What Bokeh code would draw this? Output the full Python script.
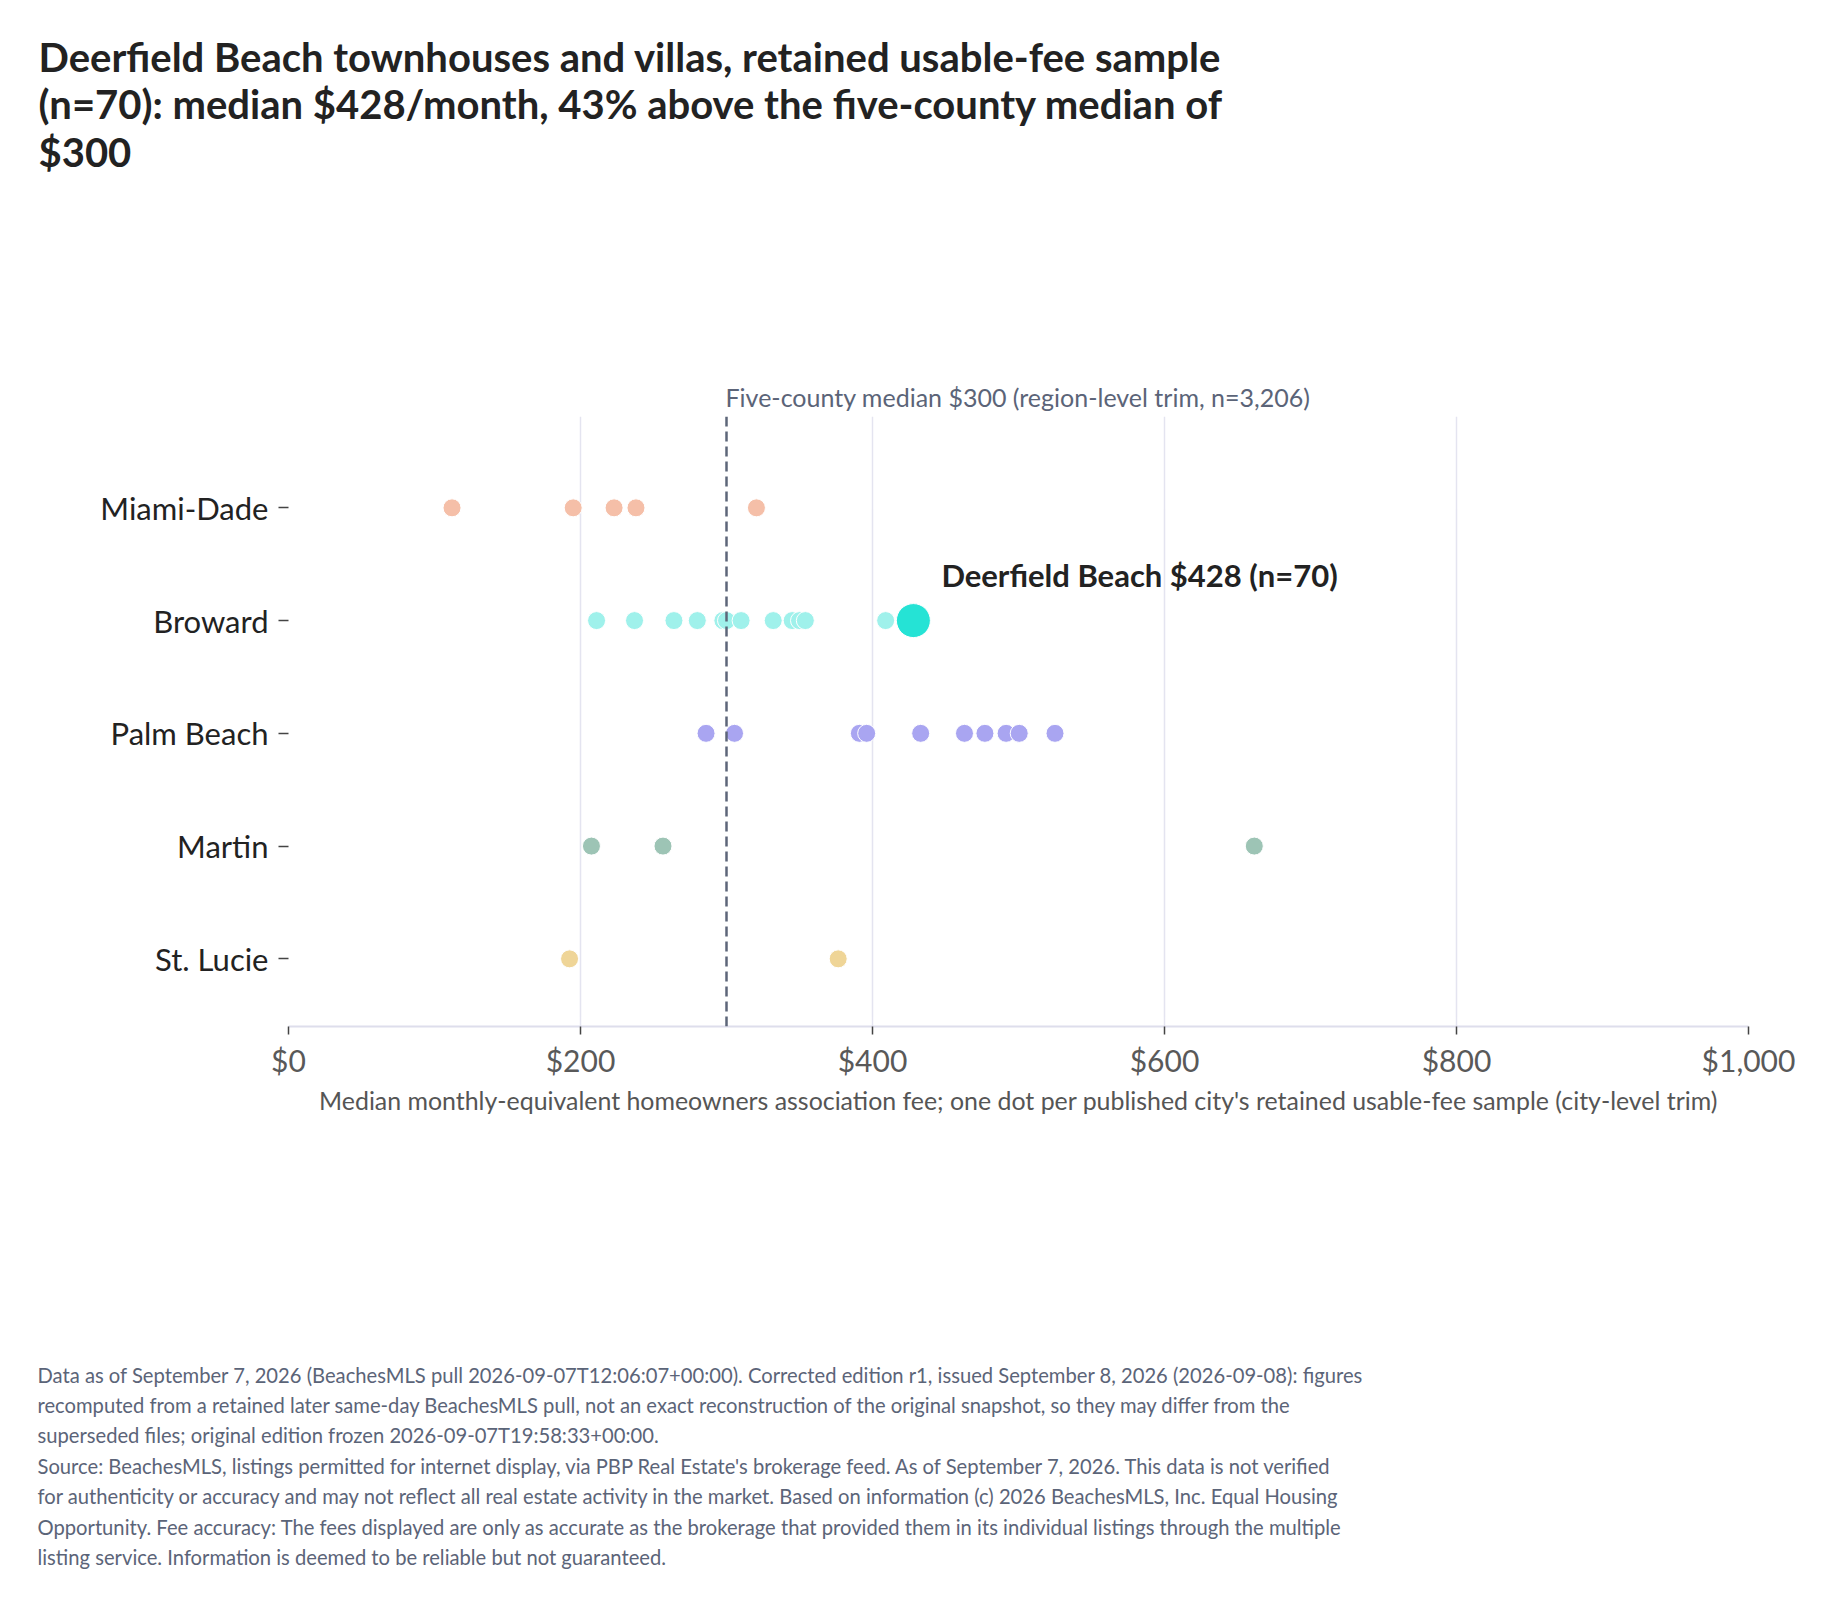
from bokeh.plotting import figure
from bokeh.models import Range1d, FixedTicker, NumeralTickFormatter, Span, Label, ColumnDataSource
from bokeh.embed import file_html
from bokeh.resources import INLINE

# ---------------- data ----------------
counties = ["Miami-Dade", "Broward", "Palm Beach", "Martin", "St. Lucie"]
miami_dade = [112, 195, 223, 238, 320.5]
broward = [211, 237, 264, 280, 297.5, 300, 310, 332, 345, 350, 354, 409]
palm_beach = [286, 305.5, 391, 396, 433, 463, 477, 491.5, 500.5, 525]
martin = [207.5, 256.5, 661.5]
st_lucie = [192.5, 376.5]
county_values = [miami_dade, broward, palm_beach, martin, st_lucie]
county_colors = ["#f5bfa8", "#9ff1eb", "#a9a5f1", "#9dc4b5", "#efd597"]

highlight_city = "Deerfield Beach"
highlight_county = "Broward"
highlight_value = 428
highlight_n = 70
highlight_color = "#25e3d5"

region_median = 300
region_n = 3206

x_ticks = [0, 200, 400, 600, 800, 1000]

title_lines = [
    "Deerfield Beach townhouses and villas, retained usable-fee sample",
    "(n=70): median $428/month, 43% above the five-county median of",
    "$300",
]
x_axis_title = ("Median monthly-equivalent homeowners association fee; one dot per published "
                "city's retained usable-fee sample (city-level trim)")
footnote_lines = [
    "Data as of September 7, 2026 (BeachesMLS pull 2026-09-07T12:06:07+00:00). Corrected edition r1, issued September 8, 2026 (2026-09-08): figures",
    "recomputed from a retained later same-day BeachesMLS pull, not an exact reconstruction of the original snapshot, so they may differ from the",
    "superseded files; original edition frozen 2026-09-07T19:58:33+00:00.",
    "Source: BeachesMLS, listings permitted for internet display, via PBP Real Estate's brokerage feed. As of September 7, 2026. This data is not verified",
    "for authenticity or accuracy and may not reflect all real estate activity in the market. Based on information (c) 2026 BeachesMLS, Inc. Equal Housing",
    "Opportunity. Fee accuracy: The fees displayed are only as accurate as the brokerage that provided them in its individual listings through the multiple",
    "listing service. Information is deemed to be reliable but not guaranteed.",
]

# ---------------- figure ----------------
FONT = "Lato"
W, H = 1814, 1589
p = figure(
    width=W, height=H, output_backend="svg", toolbar_location=None,
    x_range=Range1d(0, 1000), y_range=Range1d(4.6, -0.81),
    min_border_left=288, min_border_right=66, min_border_top=416, min_border_bottom=563,
)
p.outline_line_color = None
p.background_fill_color = "white"
p.border_fill_color = "white"

# x axis
p.xaxis.ticker = FixedTicker(ticks=x_ticks)
p.xaxis.formatter = NumeralTickFormatter(format="$0,0")
p.xaxis.major_label_text_font = FONT
p.xaxis.major_label_text_font_size = "30px"
p.xaxis.major_label_text_color = "#595959"
p.xaxis.major_label_standoff = 7
p.xaxis.axis_label = x_axis_title
p.xaxis.axis_label_text_font = FONT
p.xaxis.axis_label_text_font_size = "24.9px"
p.xaxis.axis_label_text_font_style = "normal"
p.xaxis.axis_label_text_color = "#555555"
p.xaxis.axis_label_standoff = 4
p.xaxis.axis_line_color = "#dedeec"
p.xaxis.axis_line_width = 2
p.xaxis.major_tick_line_color = "#444444"
p.xaxis.major_tick_line_width = 1.5
p.xaxis.major_tick_out = 8
p.xaxis.major_tick_in = 0
p.xaxis.minor_tick_line_color = None

# y axis
p.yaxis.ticker = FixedTicker(ticks=list(range(len(counties))))
p.yaxis.major_label_overrides = {i: c for i, c in enumerate(counties)}
p.yaxis.major_label_text_font = FONT
p.yaxis.major_label_text_font_size = "31px"
p.yaxis.major_label_text_color = "#222222"
p.yaxis.major_label_standoff = 10
p.yaxis.axis_line_color = None
p.yaxis.major_tick_line_color = "#444444"
p.yaxis.major_tick_line_width = 1.5
p.yaxis.major_tick_out = 10
p.yaxis.major_tick_in = 0
p.yaxis.minor_tick_line_color = None

# grid
p.xgrid.grid_line_color = "#e4e4f0"
p.xgrid.grid_line_width = 1.5
p.ygrid.grid_line_color = None

# median line
p.add_layout(Span(location=region_median, dimension="height", line_color="#5d6679",
                  line_width=2.5, line_dash="10 5"))

# dots
for i, (vals, col) in enumerate(zip(county_values, county_colors)):
    src = ColumnDataSource(dict(x=sorted(vals), y=[i] * len(vals)))
    p.scatter(x="x", y="y", source=src, size=18, fill_color=col, line_color="white", line_width=1)

hi_idx = counties.index(highlight_county)
p.scatter(x=[highlight_value], y=[hi_idx], size=34, fill_color=highlight_color,
          line_color="white", line_width=1)

# annotations
p.add_layout(Label(x=highlight_value, y=hi_idx, x_offset=28, y_offset=46,
                   text=f"{highlight_city} ${highlight_value} (n={highlight_n})",
                   text_font=FONT, text_font_size="31px", text_font_style="bold",
                   text_color="#222222", text_baseline="alphabetic"))

# texts outside the plot frame: placed in side panels (not clipped), canvas coordinates
median_x_px = 288 + region_median * 1.46 - 1
p.add_layout(Label(x=median_x_px, y=396, x_units="canvas", y_units="canvas",
                   text=f"Five-county median ${region_median} (region-level trim, n={region_n:,})",
                   text_font=FONT, text_font_size="25px", text_color="#5b6478",
                   text_baseline="alphabetic"), "above")

for k, line in enumerate(title_lines):
    p.add_layout(Label(x=38, y=56 + k * 47.7, x_units="canvas", y_units="canvas",
                       text=line, text_font=FONT, text_font_size="40px",
                       text_font_style="bold", text_color="#222222",
                       text_baseline="alphabetic"), "above")

for k, line in enumerate(footnote_lines):
    p.add_layout(Label(x=37, y=1374 + k * 30.4, x_units="canvas", y_units="canvas",
                       text=line, text_font=FONT, text_font_size="20.2px",
                       text_color="#5b6478", text_baseline="alphabetic"), "below")

open("out.html", "w").write(file_html(p, INLINE))
